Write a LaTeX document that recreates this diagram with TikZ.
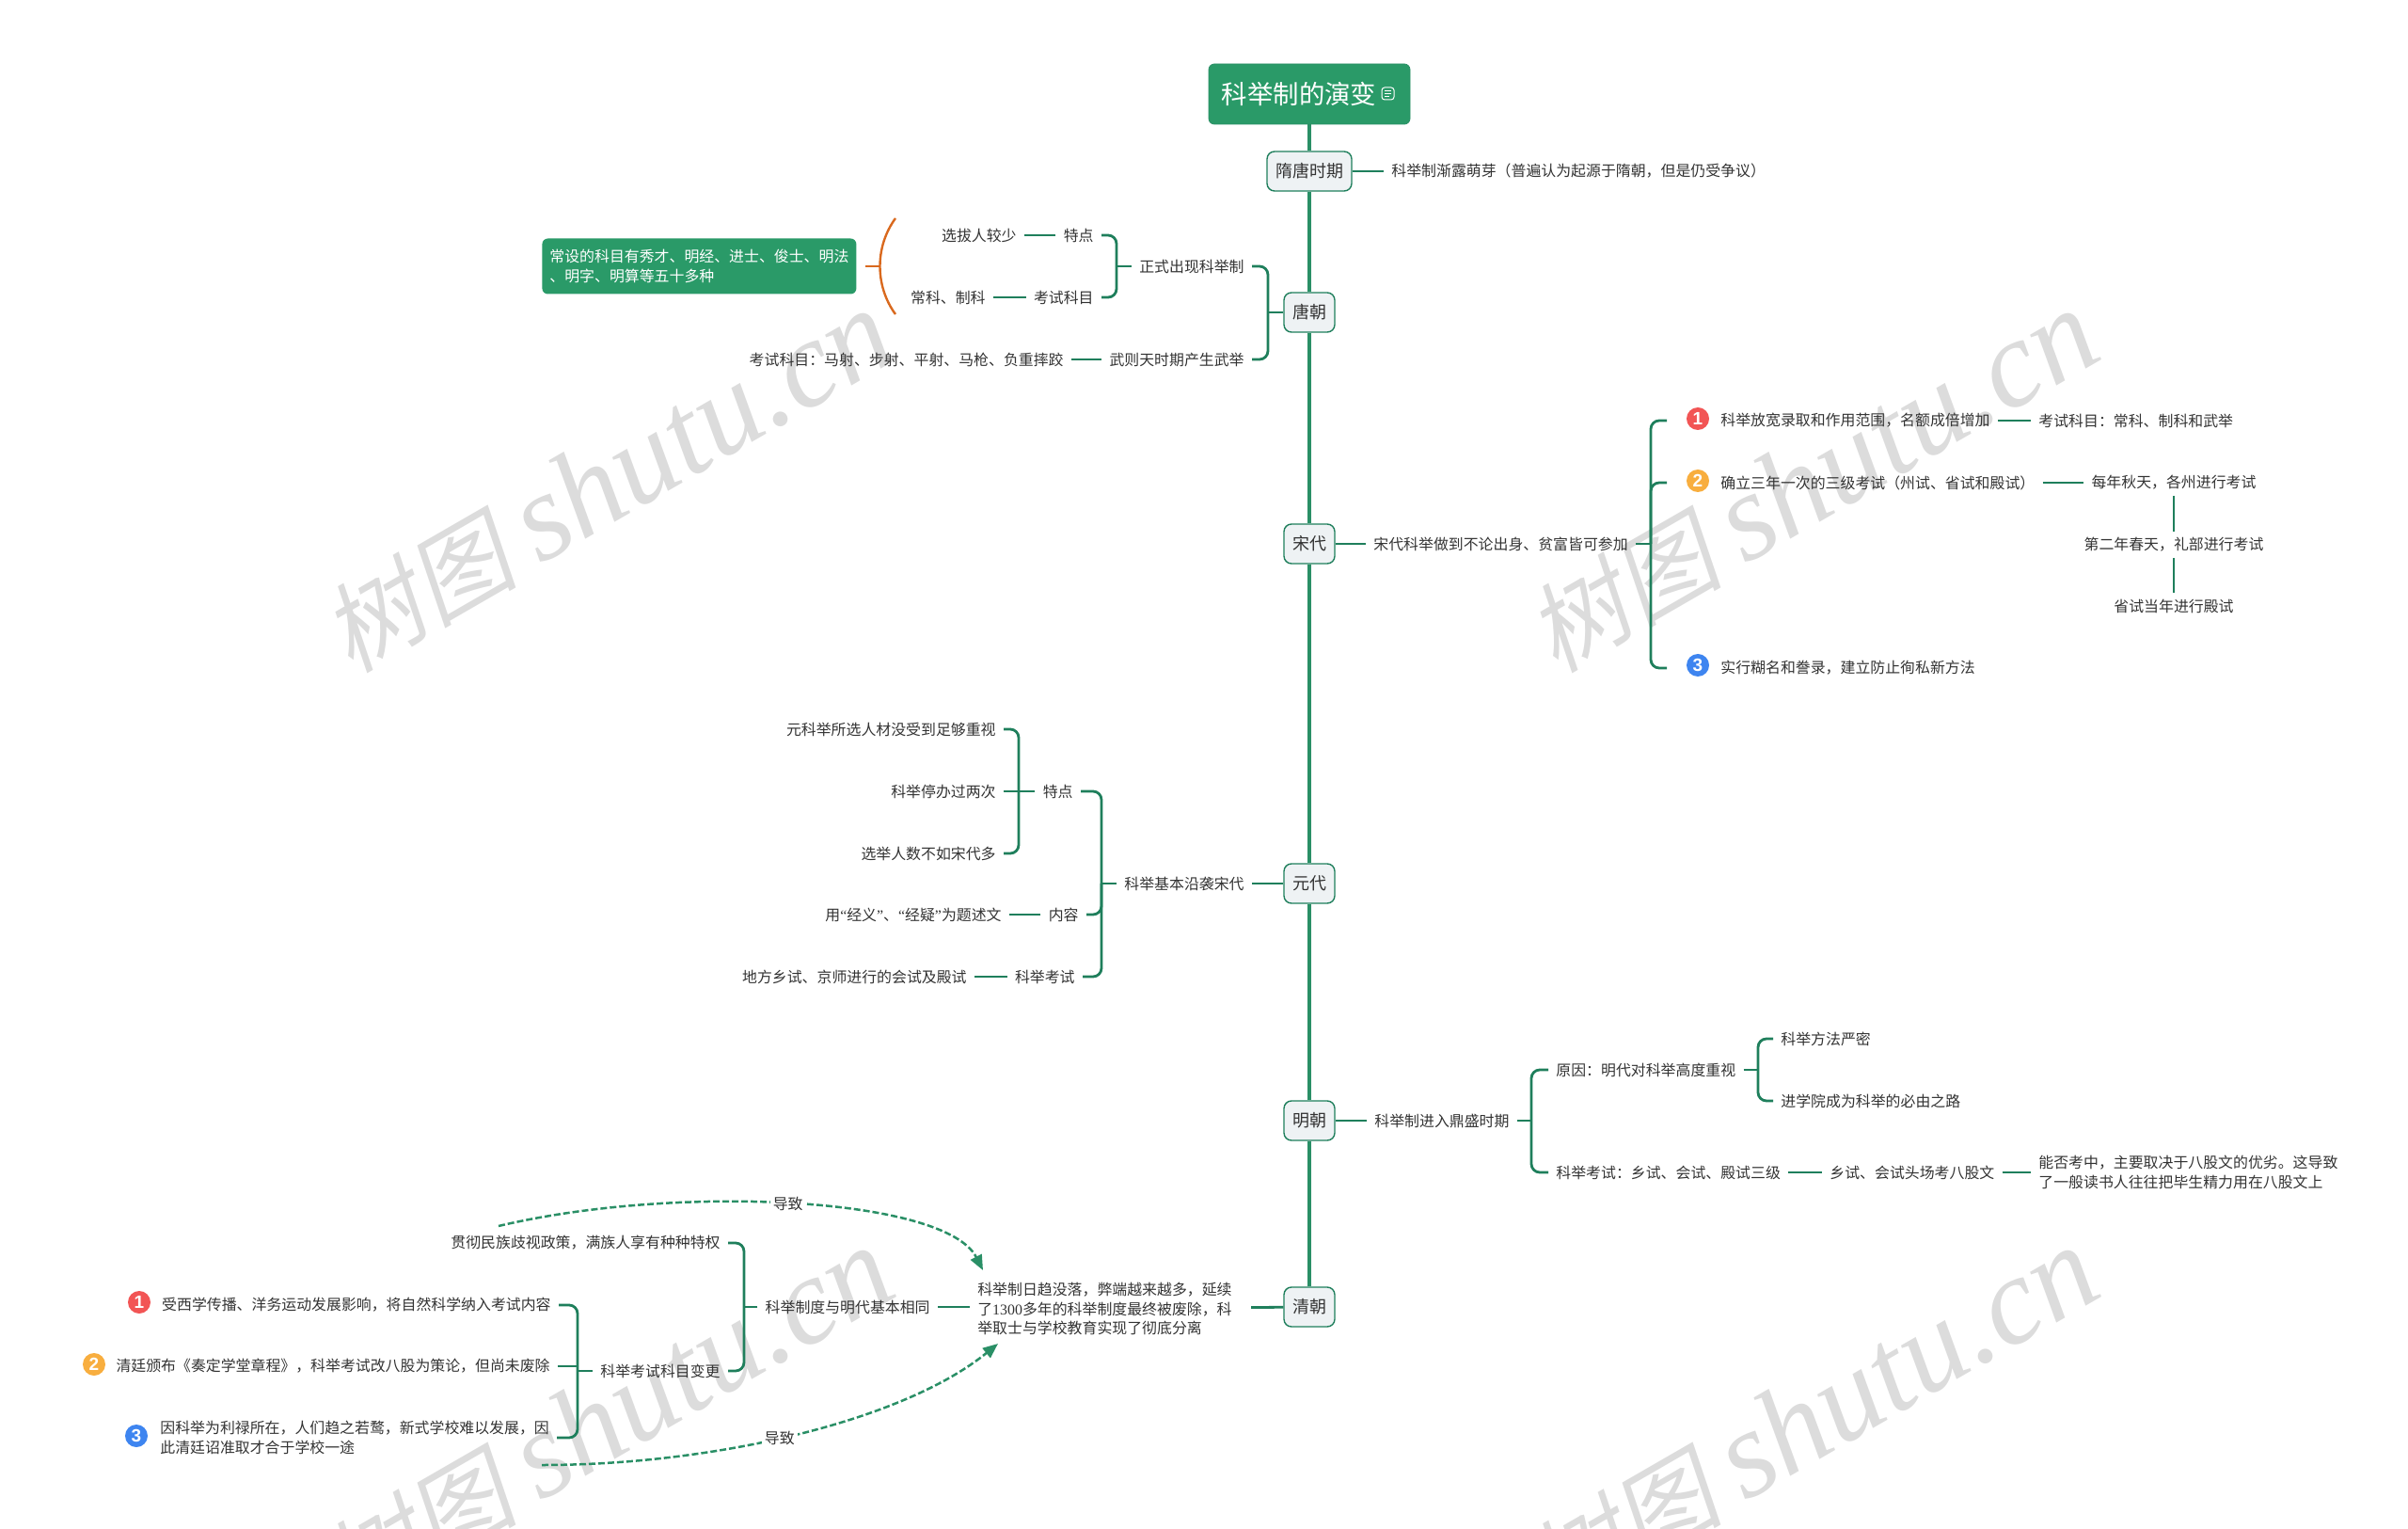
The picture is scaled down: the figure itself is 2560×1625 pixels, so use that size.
\documentclass[tikz,border=0pt]{standalone}
\usepackage{fontspec}
\usetikzlibrary{arrows.meta}
\setmainfont{Noto Sans CJK SC}
\newfontfamily\numfont{Liberation Serif}
\newfontfamily\markfont{Liberation Sans}
\newfontfamily\wmcjk[FakeSlant=0.2]{Noto Sans CJK SC}
\definecolor{treegreen}{HTML}{2A8F66}
\definecolor{forkgreen}{HTML}{1F7F5C}
\definecolor{boxgreen}{HTML}{2A9A68}
\definecolor{topicfill}{HTML}{EEF2F4}
\definecolor{leaftext}{HTML}{333333}
\definecolor{braceorange}{HTML}{D9691E}
\definecolor{wmgray}{HTML}{DCDCDC}
\definecolor{markred}{HTML}{F25555}
\definecolor{markorange}{HTML}{F8AE3F}
\definecolor{markblue}{HTML}{3E85F0}
\newcommand{\wmtext}{{\wmcjk\fontsize{52}{60}\selectfont 树图}\kern12pt{\numfont\itshape\fontsize{66}{68}\selectfont shutu.cn}}
\begin{document}
\begin{tikzpicture}[
        x=0.5pt, y=-0.5pt,
        root_box/.style={rectangle, rounded corners=3pt, fill=boxgreen, draw=treegreen, text=white, minimum width=107pt, minimum height=32pt, inner sep=0pt, font=\fontsize{13.7}{16}\selectfont},
        topic_box/.style={rectangle, rounded corners=4pt, fill=topicfill, draw=forkgreen, line width=0.7pt, text=leaftext, minimum width=27pt, minimum height=21pt, inner sep=0pt, inner xsep=4.5pt, font=\fontsize{9}{11}\selectfont},
        leaf/.style={inner xsep=4pt, inner ysep=1pt, text=leaftext, align=left, font=\fontsize{7.95}{10.25}\selectfont},
        note_box/.style={rectangle, rounded corners=3pt, fill=boxgreen, text=white, minimum width=167pt, minimum height=29.5pt, inner xsep=4pt, inner ysep=0pt, align=left, font=\fontsize{7.95}{10.25}\selectfont},
        marker/.style={circle, text=white, minimum size=12pt, inner sep=0pt, outer sep=10.5pt, font=\markfont\bfseries\fontsize{9.5}{9.5}\selectfont},
        spine_line/.style={treegreen, line width=2pt},
        fork_line/.style={forkgreen, line width=1.4pt, rounded corners=4.5pt},
        relation_line/.style={treegreen, line width=1.25pt, dash pattern=on 3.5pt off 1.5pt, -{Triangle[length=8pt, width=6.5pt]}},
        relation_text/.style={fill=white, inner sep=1.5pt, text=leaftext, font=\fontsize{7.95}{10}\selectfont},
        watermark/.style={text=wmgray, rotate=30}
    ]
    \useasboundingbox (0,0) rectangle (2560,1625);

    % Watermarks behind everything
    \begin{scope}
    \clip (0,0) rectangle (2560,1625);
    \node[watermark] (wm1) at (645,512) {\wmtext};
    \node[watermark] (wm2) at (1926,512) {\wmtext};
    \node[watermark] (wm3) at (645,1508) {\wmtext};
    \node[watermark] (wm4) at (1926,1508) {\wmtext};
    \end{scope}

    % Root and the dynasties on the central line
    \node[root_box] (root) at (1392,100) {科举制的演变\kern11pt};
    \node[topic_box] (suitang) at (1392,182) {隋唐时期};
    \node[topic_box] (tang) at (1392,332) {唐朝};
    \node[topic_box] (song) at (1392,578) {宋代};
    \node[topic_box] (yuan) at (1392,939) {元代};
    \node[topic_box] (ming) at (1392,1191) {明朝};
    \node[topic_box] (qing) at (1392,1389) {清朝};
    \draw[spine_line] (root) -- (suitang) -- (tang) -- (song) -- (yuan) -- (ming) -- (qing);

    % Note icon in the root
    \draw[white, line width=0.5pt, rounded corners=1.5pt] (1469,93) rectangle (1482,106);
    \draw[white, line width=0.5pt] (1472,97) -- (1479,97);
    \draw[white, line width=0.5pt] (1472,100) -- (1479,100);
    \draw[white, line width=0.5pt] (1472,103) -- (1477,103);

    % Sui and Tang
    \node[leaf, anchor=west] (suitang_a) at (1471,182) {科举制渐露萌芽（普遍认为起源于隋朝，但是仍受争议）};
    \draw[fork_line] (suitang) -- (suitang_a);

    % Tang
    \node[leaf, anchor=east] (tang_a) at (1331,283) {正式出现科举制};
    \node[leaf, anchor=east] (tang_b) at (1331,382) {武则天时期产生武举};
    \node[leaf, anchor=east] (tang_a1) at (1171,250) {特点};
    \node[leaf, anchor=east] (tang_a2) at (1171,316) {考试科目};
    \node[leaf, anchor=east] (tang_a1x) at (1089,250) {选拔人较少};
    \node[leaf, anchor=east] (tang_a2x) at (1056,316) {常科、制科};
    \node[leaf, anchor=east] (tang_bx) at (1139,382) {考试科目：马射、步射、平射、马枪、负重摔跤};
    \node[note_box, anchor=west] (tang_note) at (576,283) {常设的科目有秀才、明经、进士、俊士、明法\\、明字、明算等五十多种};
    \coordinate (tang_fork) at (1348,332);
    \coordinate (tang_a_fork) at (1187,283);
    \draw[fork_line] (tang) -- (tang_fork);
    \draw[fork_line] (tang_a.east) -| (tang_fork) |- (tang_b.east);
    \draw[fork_line] (tang_a) -- (tang_a_fork);
    \draw[fork_line] (tang_a1.east) -| (tang_a_fork) |- (tang_a2.east);
    \draw[fork_line] (tang_a1) -- (tang_a1x);
    \draw[fork_line] (tang_a2) -- (tang_a2x);
    \draw[fork_line] (tang_b) -- (tang_bx);

    % Orange brace round the two Tang items
    \coordinate (brace_top) at (952,232);
    \coordinate (brace_mid) at (935,283);
    \coordinate (brace_bottom) at (952,334);
    \draw[braceorange, line width=1.2pt] (brace_top) .. controls (930,262) and (930,304) .. (brace_bottom);
    \draw[braceorange, line width=1.2pt, shorten <=4.5pt] (tang_note.east) -- (brace_mid);

    % Song
    \node[leaf, anchor=west] (song_a) at (1452,578) {宋代科举做到不论出身、贫富皆可参加};
    \node[marker, fill=markred] (song_m1) at (1805,445) {1};
    \node[marker, fill=markorange] (song_m2) at (1805,511) {2};
    \node[marker, fill=markblue] (song_m3) at (1805,707) {3};
    \node[leaf, anchor=west] (song_t1) at (1821,447) {科举放宽录取和作用范围，名额成倍增加};
    \node[leaf, anchor=west] (song_t2) at (1821,513) {确立三年一次的三级考试（州试、省试和殿试）};
    \node[leaf, anchor=west] (song_t3) at (1821,710) {实行糊名和誊录，建立防止徇私新方法};
    \node[leaf, anchor=west] (song_t1x) at (2159,447) {考试科目：常科、制科和武举};
    \node[leaf, anchor=center] (song_t2x) at (2311,513) {每年秋天，各州进行考试};
    \node[leaf, anchor=center] (song_t2y) at (2311,579) {第二年春天，礼部进行考试};
    \node[leaf, anchor=center] (song_t2z) at (2311,644) {省试当年进行殿试};
    \coordinate (song_fork) at (1755,578);
    \draw[fork_line] (song) -- (song_a);
    \draw[fork_line] (song_a) -- (song_fork);
    \draw[fork_line] (song_m1.west |- song_t1) -| (song_fork) |- (song_m3.west |- song_t3);
    \draw[fork_line] (song_fork) |- (song_m2.west |- song_t2);
    \draw[fork_line] (song_t1) -- (song_t1x);
    \draw[fork_line] (song_t2) -- (song_t2x);
    \draw[fork_line, shorten <=2pt, shorten >=2pt] (song_t2x) -- (song_t2y);
    \draw[fork_line, shorten <=2pt, shorten >=2pt] (song_t2y) -- (song_t2z);

    % Yuan
    \node[leaf, anchor=east] (yuan_a) at (1331,939) {科举基本沿袭宋代};
    \node[leaf, anchor=east] (yuan_a1) at (1149,841) {特点};
    \node[leaf, anchor=east] (yuan_a2) at (1155,972) {内容};
    \node[leaf, anchor=east] (yuan_a3) at (1151,1038) {科举考试};
    \node[leaf, anchor=east] (yuan_x1) at (1067,775) {元科举所选人材没受到足够重视};
    \node[leaf, anchor=east] (yuan_x2) at (1067,841) {科举停办过两次};
    \node[leaf, anchor=east] (yuan_x3) at (1067,907) {选举人数不如宋代多};
    \node[leaf, anchor=east] (yuan_a2x) at (1073,972) {用{\numfont “}经义{\numfont ”}、{\numfont “}经疑{\numfont ”}为题述文};
    \node[leaf, anchor=east] (yuan_a3x) at (1036,1038) {地方乡试、京师进行的会试及殿试};
    \coordinate (yuan_fork) at (1171,939);
    \coordinate (yuan_a1_fork) at (1083,841);
    \draw[fork_line] (yuan) -- (yuan_a);
    \draw[fork_line] (yuan_a) -- (yuan_fork);
    \draw[fork_line] (yuan_a1.east) -| (yuan_fork) |- (yuan_a3.east);
    \draw[fork_line] (yuan_fork) |- (yuan_a2.east);
    \draw[fork_line] (yuan_a1) -- (yuan_x2);
    \draw[fork_line] (yuan_x1.east) -| (yuan_a1_fork) |- (yuan_x3.east);
    \draw[fork_line] (yuan_a2) -- (yuan_a2x);
    \draw[fork_line] (yuan_a3) -- (yuan_a3x);

    % Ming
    \node[leaf, anchor=west] (ming_a) at (1453,1191) {科举制进入鼎盛时期};
    \node[leaf, anchor=west] (ming_a1) at (1646,1137) {原因：明代对科举高度重视};
    \node[leaf, anchor=west] (ming_a2) at (1646,1246) {科举考试：乡试、会试、殿试三级};
    \node[leaf, anchor=west] (ming_x1) at (1885,1104) {科举方法严密};
    \node[leaf, anchor=west] (ming_x2) at (1885,1170) {进学院成为科举的必由之路};
    \node[leaf, anchor=west] (ming_a2x) at (1937,1246) {乡试、会试头场考八股文};
    \node[leaf, anchor=west] (ming_a2y) at (2159,1246) {能否考中，主要取决于八股文的优劣。这导致\\了一般读书人往往把毕生精力用在八股文上};
    \coordinate (ming_fork) at (1628,1191);
    \coordinate (ming_a1_fork) at (1869,1137);
    \draw[fork_line] (ming) -- (ming_a);
    \draw[fork_line] (ming_a) -- (ming_fork);
    \draw[fork_line] (ming_a1.west) -| (ming_fork) |- (ming_a2.west);
    \draw[fork_line] (ming_a1) -- (ming_a1_fork);
    \draw[fork_line] (ming_x1.west) -| (ming_a1_fork) |- (ming_x2.west);
    \draw[fork_line] (ming_a2) -- (ming_a2x);
    \draw[fork_line] (ming_a2x) -- (ming_a2y);

    % Qing
    \node[leaf, anchor=east] (qing_a) at (1318,1391) {科举制日趋没落，弊端越来越多，延续\\了{\numfont 1300}多年的科举制度最终被废除，科\\举取士与学校教育实现了彻底分离};
    \node[leaf, anchor=east] (qing_b) at (997,1389) {科举制度与明代基本相同};
    \node[leaf, anchor=east] (qing_b1) at (774,1321) {贯彻民族歧视政策，满族人享有种种特权};
    \node[leaf, anchor=east] (qing_b2) at (774,1457) {科举考试科目变更};
    \node[leaf, anchor=east] (qing_t1) at (594,1387) {受西学传播、洋务运动发展影响，将自然科学纳入考试内容};
    \node[leaf, anchor=east] (qing_t2) at (593,1452) {清廷颁布《奏定学堂章程》，科举考试改八股为策论，但尚未废除};
    \node[leaf, anchor=west] (qing_t3) at (162,1528) {因科举为利禄所在，人们趋之若鹜，新式学校难以发展，因\\此清廷诏准取才合于学校一途};
    \node[marker, fill=markred] (qing_m1) at (148,1384) {1};
    \node[marker, fill=markorange] (qing_m2) at (100,1450) {2};
    \node[marker, fill=markblue] (qing_m3) at (145,1526) {3};
    \coordinate (qing_fork) at (791,1389);
    \coordinate (qing_b2_fork) at (614,1457);
    \draw[fork_line, shorten >=6pt] (qing) -- (qing_a);
    \draw[fork_line] (qing_b) -- (qing_a.west |- qing_b);
    \draw[fork_line] (qing_b) -- (qing_fork);
    \draw[fork_line] (qing_b1.east) -| (qing_fork) |- (qing_b2.east);
    \draw[fork_line] (qing_b2) -- (qing_b2_fork);
    \draw[fork_line] (qing_t1.east) -| (qing_b2_fork) |- (qing_t3.east |- 0,1528);
    \draw[fork_line] (qing_t2.east) -- (qing_b2_fork |- qing_t2.east);

    % Dashed relations into the Qing summary
    \coordinate (rel_top_start) at (530,1303);
    \coordinate (rel_top_end) at (1045,1350);
    \coordinate (rel_bottom_start) at (576,1557);
    \coordinate (rel_bottom_end) at (1061,1428);
    \draw[relation_line] (rel_top_start) .. controls (720,1258) and (1005,1272) .. node[relation_text, pos=0.49] (rel_top_text) {导致} (rel_top_end);
    \draw[relation_line] (rel_bottom_start) .. controls (760,1557) and (960,1510) .. node[relation_text, pos=0.46] (rel_bottom_text) {导致} (rel_bottom_end);

    \end{tikzpicture}
\end{document}
